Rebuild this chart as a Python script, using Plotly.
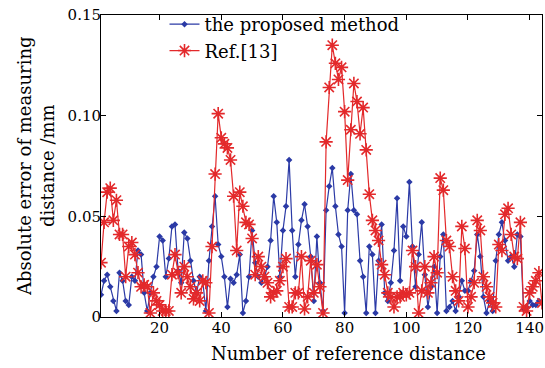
import plotly.graph_objects as go

ref_number = list(range(1, 145))

proposed_error = [
    0.011, 0.018, 0.021, 0.015, 0.008, 0.003, 0.022, 0.018, 0.008, 0.006,
    0.020, 0.018, 0.033, 0.031, 0.012, 0.003, 0.012, 0.020, 0.025, 0.040,
    0.038, 0.020, 0.029, 0.045, 0.046, 0.023, 0.017, 0.042, 0.039, 0.028,
    0.018, 0.012, 0.020, 0.018, 0.003, 0.028, 0.045, 0.060, 0.036, 0.030,
    0.020, 0.005, 0.019, 0.017, 0.021, 0.031, 0.002, 0.008, 0.020, 0.043,
    0.027, 0.020, 0.017, 0.020, 0.025, 0.038, 0.060, 0.047, 0.020, 0.043,
    0.055, 0.078, 0.043, 0.020, 0.036, 0.048, 0.056, 0.045, 0.030, 0.008,
    0.040, 0.017, 0.003, 0.053, 0.065, 0.074, 0.055, 0.041, 0.035, 0.002,
    0.053, 0.071, 0.053, 0.051, 0.028, 0.020, 0.002, 0.035, 0.031, 0.002,
    0.028, 0.046, 0.012, 0.008, 0.017, 0.033, 0.059, 0.018, 0.045, 0.040,
    0.067, 0.035, 0.015, 0.031, 0.047, 0.021, 0.005, 0.015, 0.025, 0.002,
    0.030, 0.041, 0.003, 0.005, 0.008, 0.003, 0.010, 0.018, 0.013, 0.013,
    0.018, 0.023, 0.041, 0.030, 0.010, 0.002, 0.008, 0.003, 0.028, 0.041,
    0.047, 0.038, 0.028, 0.030, 0.025, 0.041, 0.040, 0.004, 0.005, 0.008,
    0.006, 0.006, 0.008, 0.007,
]

ref13_error = [
    0.027, 0.047, 0.062, 0.064, 0.048, 0.058, 0.041, 0.041, 0.020, 0.035,
    0.037, 0.031, 0.022, 0.015, 0.016, 0.015, 0.002, 0.012, 0.008, 0.006,
    0.003, 0.003, 0.003, 0.021, 0.031, 0.022, 0.012, 0.025, 0.020, 0.015,
    0.009, 0.012, 0.008, 0.018, 0.017, 0.002, 0.035, 0.071, 0.101, 0.089,
    0.086, 0.084, 0.078, 0.060, 0.033, 0.062, 0.055, 0.047, 0.046, 0.039,
    0.021, 0.030, 0.025, 0.020, 0.017, 0.010, 0.012, 0.013, 0.018, 0.025,
    0.029, 0.005, 0.005, 0.012, 0.012, 0.030, 0.004, 0.010, 0.028, 0.012,
    0.026, 0.015, 0.002, 0.087, 0.114, 0.135, 0.126, 0.118, 0.124, 0.102,
    0.068, 0.093, 0.116, 0.107, 0.091, 0.104, 0.083, 0.061, 0.048, 0.043,
    0.038, 0.026, 0.021, 0.012, 0.010, 0.005, 0.010, 0.010, 0.012, 0.011,
    0.012, 0.033, 0.025, 0.002, 0.013, 0.025, 0.012, 0.017, 0.030, 0.022,
    0.069, 0.063, 0.038, 0.035, 0.020, 0.013, 0.008, 0.045, 0.034, 0.005,
    0.010, 0.017, 0.048, 0.043, 0.020, 0.015, 0.010, 0.007, 0.005, 0.036,
    0.033, 0.051, 0.054, 0.041, 0.030, 0.029, 0.047, 0.005, 0.003, 0.012,
    0.015, 0.018, 0.022, 0.007,
]

x_ticks = [20, 40, 60, 80, 100, 120, 140]
y_ticks = [0, 0.05, 0.10, 0.15]
y_tick_labels = ["0", "0.05", "0.10", "0.15"]

BLUE = "#2b3aa6"
RED = "#e3292b"
FONT = "DejaVu Serif, Liberation Serif, serif"

fig = go.Figure()
fig.add_trace(go.Scatter(
    x=ref_number, y=proposed_error, mode="lines+markers",
    name="the proposed method",
    line=dict(color=BLUE, width=1.2),
    marker=dict(symbol="diamond", size=5, color=BLUE),
))
fig.add_trace(go.Scatter(
    x=ref_number, y=ref13_error, mode="lines+markers",
    name="Ref.[13]",
    line=dict(color=RED, width=1.2),
    marker=dict(symbol="asterisk-open", size=11, color=RED,
                line=dict(color=RED, width=1.6)),
))

axis_common = dict(
    showline=True, linecolor="black", linewidth=1, mirror="ticks",
    ticks="inside", ticklen=5, tickcolor="black",
    showgrid=False, zeroline=False, automargin=False,
    tickfont=dict(family=FONT, size=15, color="black"),
)

fig.update_layout(
    width=545, height=368,
    margin=dict(l=101, r=3, t=15, b=51, autoexpand=False),
    paper_bgcolor="white", plot_bgcolor="white",
    font=dict(family=FONT, size=18, color="black"),
    showlegend=True,
    legend=dict(
        x=0.144, y=1.03, xanchor="left", yanchor="top",
        bgcolor="rgba(0,0,0,0)", borderwidth=0,
        font=dict(family=FONT, size=18, color="black"),
        tracegroupgap=0,
    ),
    xaxis=dict(range=[1, 144], tickvals=x_ticks, ticklabelstandoff=-3,
               **axis_common),
    yaxis=dict(range=[0, 0.15], tickvals=y_ticks, ticktext=y_tick_labels,
               ticklabelstandoff=-4, **axis_common),
    annotations=[
        dict(text="Number of reference distance", xref="paper", yref="paper",
             x=(348 - 101) / 441, y=-0.12, xanchor="center", yanchor="middle",
             showarrow=False, font=dict(family=FONT, size=18, color="black")),
        dict(text="Absolute error of measuring<br>distance /mm", xref="paper",
             yref="paper", x=(36 - 101) / 441, y=0.5, xanchor="center",
             yanchor="middle", textangle=-90, showarrow=False,
             font=dict(family=FONT, size=18, color="black")),
    ],
)

fig.write_html("out.html",
               config={"displayModeBar": False},
               post_script="document.body.style.margin='0';")
